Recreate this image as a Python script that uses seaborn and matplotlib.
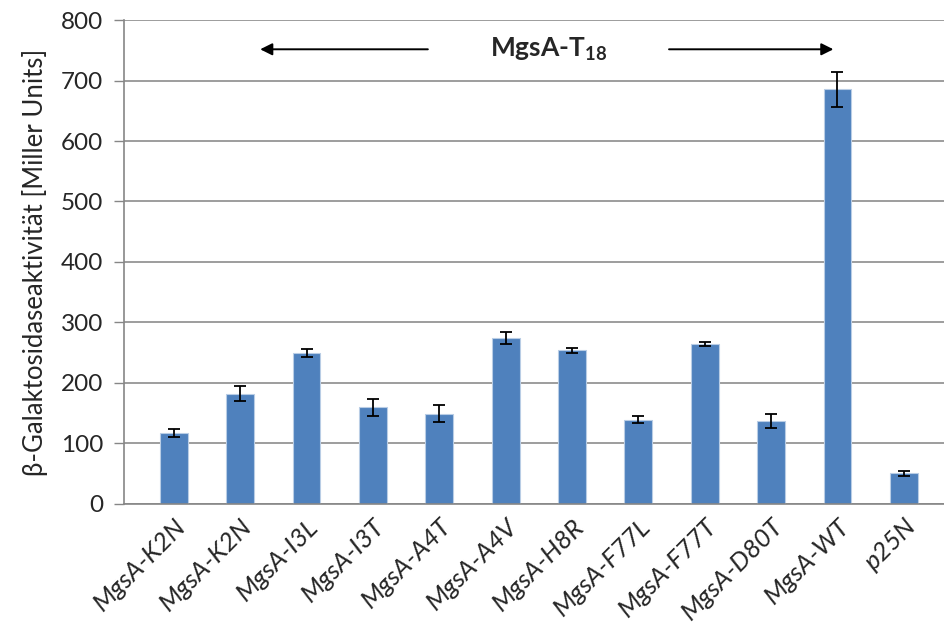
import matplotlib
matplotlib.use("Agg")
import matplotlib.pyplot as plt
import seaborn as sns
import pandas as pd

categories = ["MgsA-K2N", "MgsA-K2N", "MgsA-I3L", "MgsA-I3T", "MgsA-A4T", "MgsA-A4V",
              "MgsA-H8R", "MgsA-F77L", "MgsA-F77T", "MgsA-D80T", "MgsA-WT", "p25N"]
values = [117, 182, 249, 159, 149, 274, 254, 139, 264, 137, 686, 50]
errors = [7, 12, 7, 14, 14, 10, 4, 5.5, 3, 12, 29, 4]
y_ticks = [0, 100, 200, 300, 400, 500, 600, 700, 800]

sns.set_theme(style="white")
plt.rcParams['font.family'] = ['Lato', 'DejaVu Sans']
plt.rcParams['mathtext.fontset'] = 'custom'
plt.rcParams['mathtext.rm'] = 'Lato'
plt.rcParams['mathtext.bf'] = 'Lato:bold'

df = pd.DataFrame({"pos": range(len(categories)), "value": values})

fig = plt.figure(figsize=(9.45, 6.37), dpi=100)
ax = fig.add_axes([124/945, (637-503.5)/637, 1 - 124/945, (503.5-20.3)/637])

sns.barplot(data=df, x="pos", y="value", color="#4F81BD", saturation=1,
            width=0.42, edgecolor="#B9CDE5", linewidth=0.8, errorbar=None, ax=ax)
ax.errorbar(range(len(categories)), values, yerr=errors, fmt="none",
            ecolor="black", elinewidth=1.3, capsize=4.5, capthick=1.3, zorder=5)

ax.set_ylim(0, 800)
ax.set_yticks(y_ticks)
ax.set_yticklabels([str(t) for t in y_ticks], fontsize=17.5)
ax.set_xlim(-0.75, 11.62)
ax.set_xticks(range(len(categories)))
ax.set_xticklabels(categories, rotation=45, ha="right", rotation_mode="anchor",
                   fontsize=18.5, style="italic")
ax.tick_params(axis="x", length=0, pad=8)
ax.tick_params(axis="y", length=7, width=1, color="#868686", direction="out", left=True, pad=8)
ax.set_xlabel("")
ax.set_ylabel("β-Galaktosidaseaktivität [Miller Units]", fontsize=18.5, labelpad=9)

ax.yaxis.grid(True, color="#8C8C8C", linewidth=1.2)
ax.set_axisbelow(True)
for s in ["top", "right"]:
    ax.spines[s].set_visible(False)
for s in ["left", "bottom"]:
    ax.spines[s].set_color("#868686")
    ax.spines[s].set_linewidth(1.2)

arrow_y = 752
ax.annotate("", xy=(1.26, arrow_y), xytext=(3.87, arrow_y),
            arrowprops=dict(arrowstyle="-|>", color="black", lw=1.4, mutation_scale=18))
ax.annotate("", xy=(9.98, arrow_y), xytext=(7.42, arrow_y),
            arrowprops=dict(arrowstyle="-|>", color="black", lw=1.4, mutation_scale=18))
ax.text(5.65, arrow_y, r"MgsA-T$_{\mathbf{18}}$", ha="center", va="center",
        fontsize=19, fontweight="bold")

fig.savefig("out.png", dpi=100)
